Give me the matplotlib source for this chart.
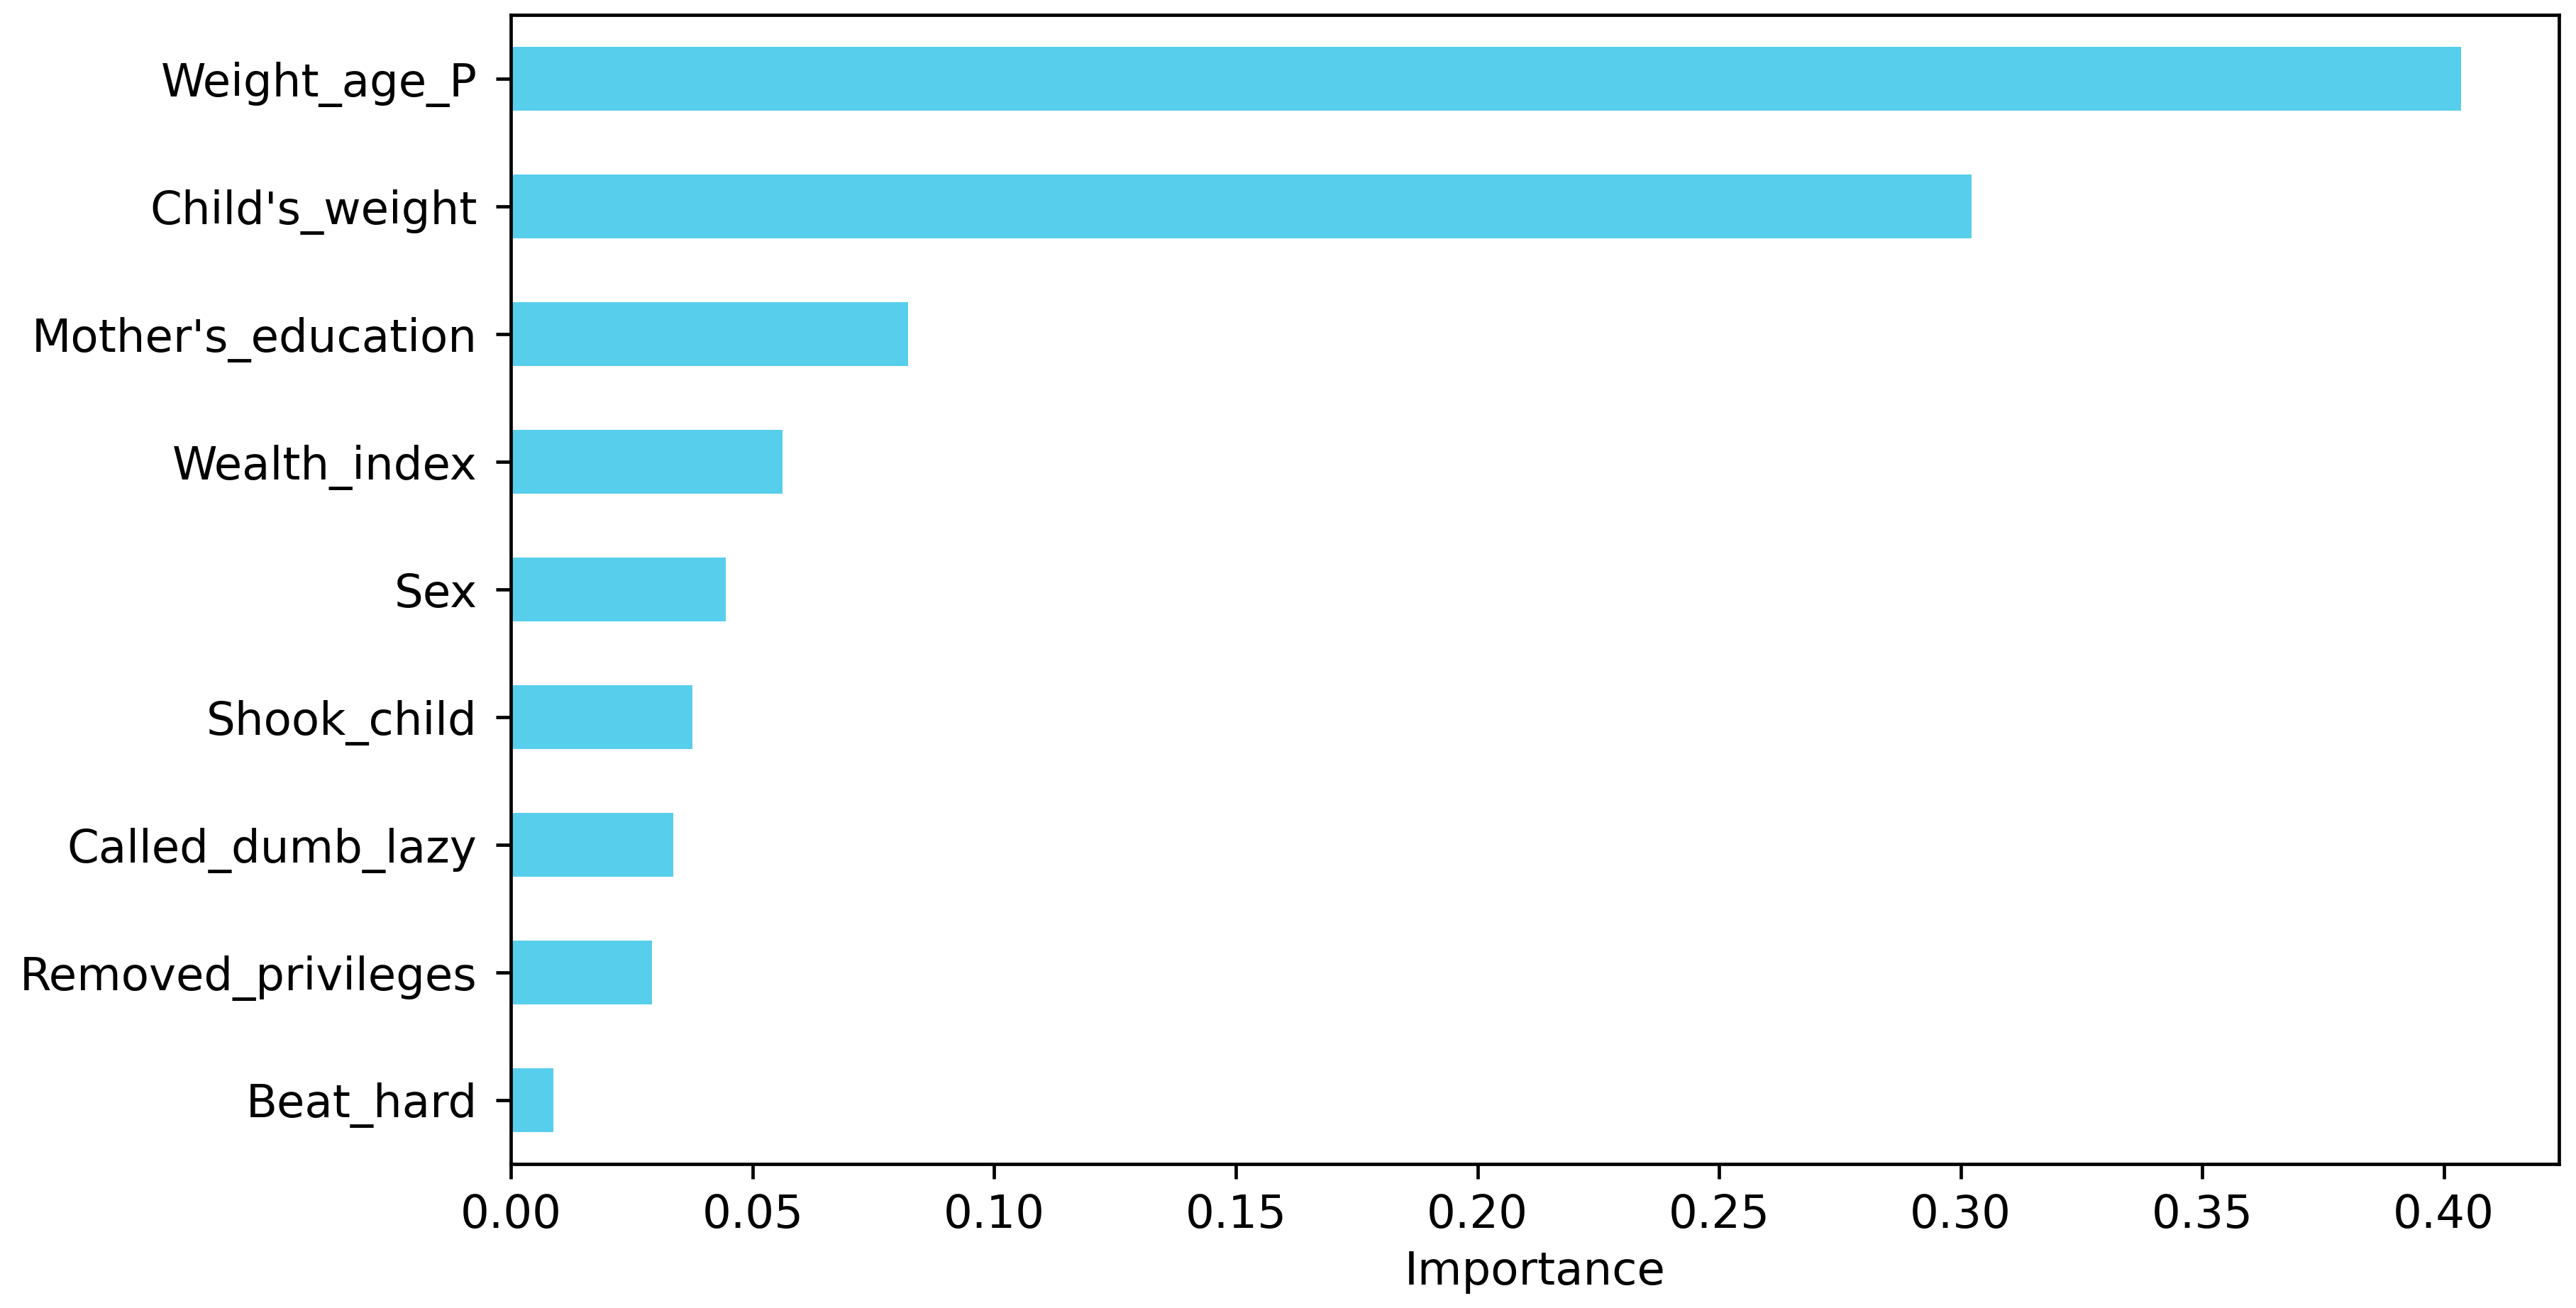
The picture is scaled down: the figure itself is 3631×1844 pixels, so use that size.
import matplotlib
matplotlib.use("Agg")
import matplotlib.pyplot as plt
import numpy as np

# feature importances, top to bottom as shown
features = ["Weight_age_P", "Child's_weight", "Mother's_education", "Wealth_index",
            "Sex", "Shook_child", "Called_dumb_lazy", "Removed_privileges", "Beat_hard"]
importance = [0.4036, 0.3023, 0.0822, 0.0562, 0.0445, 0.0376, 0.0336, 0.0292, 0.0087]

BAR_COLOR = "#57CEEB"
DPI = 425

plt.rcParams["font.size"] = 10.9

fig = plt.figure(figsize=(3631 / DPI, 1844 / DPI), dpi=DPI)
ax = fig.add_axes([0.1984, 0.1101, 0.9933 - 0.1984, 0.9885 - 0.1101])

y = np.arange(len(features))
ax.barh(y, importance, height=0.5, color=BAR_COLOR)
ax.set_yticks(y)
ax.set_yticklabels(features)
ax.set_ylim(len(features) - 0.5, -0.5)
ax.tick_params(axis="y", pad=4.6)
ax.set_xlabel("Importance", labelpad=3)

fig.savefig("out.png", dpi=DPI)
